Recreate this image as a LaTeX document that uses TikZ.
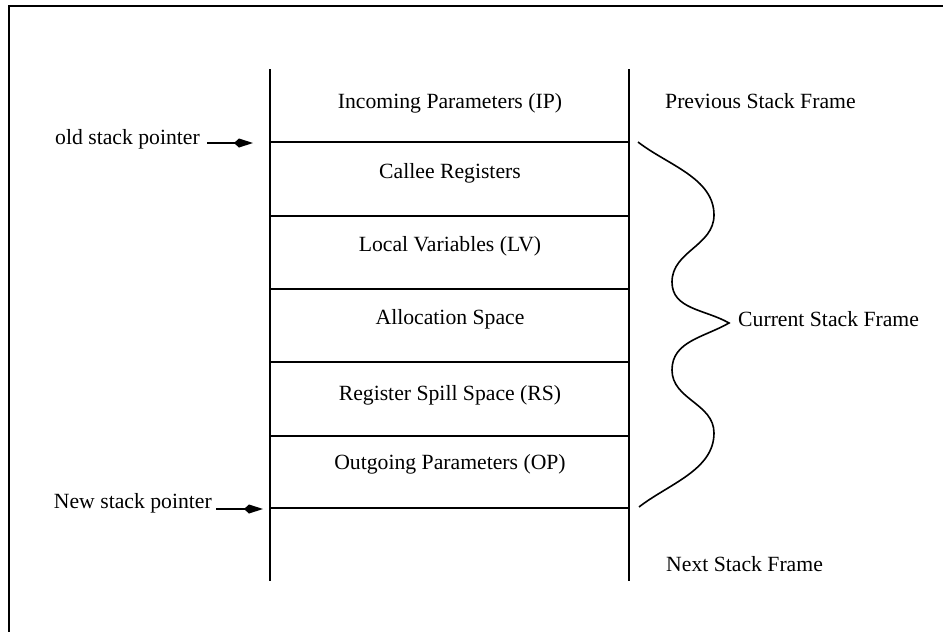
\documentclass[tikz,border=0pt]{standalone}
\usepackage{fontspec}
\setmainfont{Liberation Serif}
\usetikzlibrary{arrows.meta}
\begin{document}
\begin{tikzpicture}[x=1pt,y=-1pt,
  lbl/.style={inner sep=0pt, font=\fontsize{21.7}{26}\selectfont},
  frameline/.style={line width=1.8pt, line cap=rect},
  ptr/.style={line width=1.8pt, -{Kite[length=19pt,width=9pt,inset=5pt]}},
  wave/.style={line width=1.6pt}]
\useasboundingbox (0,0) rectangle (943,632);
% outer border (top and left only)
\coordinate (bTL) at (9,6);
\coordinate (bTR) at (943,6);
\coordinate (bBL) at (9,632);
\draw[line width=2pt] (bBL) -- (bTL) -- (bTR);
% stack columns
\coordinate (L0) at (270,70);  \coordinate (L1) at (270,580);
\coordinate (R0) at (629,70);  \coordinate (R1) at (629,580);
\draw[frameline] (L0) -- (L1);
\draw[frameline] (R0) -- (R1);
% horizontal separators
\foreach \i/\y in {1/142,2/216,3/289,4/362,5/436,6/508}{
  \coordinate (hl\i) at (270,\y);
  \coordinate (hr\i) at (629,\y);
  \draw[frameline] (hl\i) -- (hr\i);
}
% cell labels
\node[lbl, anchor=base] (ip) at (450,108) {Incoming Parameters (IP)};
\node[lbl, anchor=base] (cr) at (450,178) {Callee Registers};
\node[lbl, anchor=base] (lv) at (450,251) {Local Variables (LV)};
\node[lbl, anchor=base] (as) at (450,324) {Allocation Space};
\node[lbl, anchor=base] (rs) at (450,400) {Register Spill Space (RS)};
\node[lbl, anchor=base] (op) at (450,469) {Outgoing Parameters (OP)};
% right labels
\node[lbl, anchor=base west] (prev) at (665,108) {Previous Stack Frame};
\node[lbl, anchor=base west] (cur) at (738,326) {Current Stack Frame};
\node[lbl, anchor=base west] (next) at (666,571) {Next Stack Frame};
% pointers
\node[lbl, anchor=base east] (old) at (200,144) {old stack pointer};
\coordinate (oa) at (253,143);
\draw[ptr] ([xshift=7pt]old.east |- oa) -- (oa);
\node[lbl, anchor=base east] (new) at (212,508) {New stack pointer};
\coordinate (na) at (263,509);
\draw[ptr] ([xshift=4pt]new.east |- na) -- (na);
% wavy brace
\coordinate (w0) at (638,142);
\coordinate (w1) at (714,215);
\coordinate (w2) at (672,282);
\coordinate (w3) at (729,323);
\coordinate (w4) at (672,370);
\coordinate (w5) at (714,433);
\coordinate (w6) at (639,507);
\draw[wave] (w0) to[out=-38,in=90,looseness=0.9] (w1)
  to[out=-90,in=90] (w2)
  to[out=-90,in=150] (w3)
  to[out=210,in=90] (w4)
  to[out=-90,in=90] (w5)
  to[out=-90,in=38,looseness=0.9] (w6);
\end{tikzpicture}
\end{document}
